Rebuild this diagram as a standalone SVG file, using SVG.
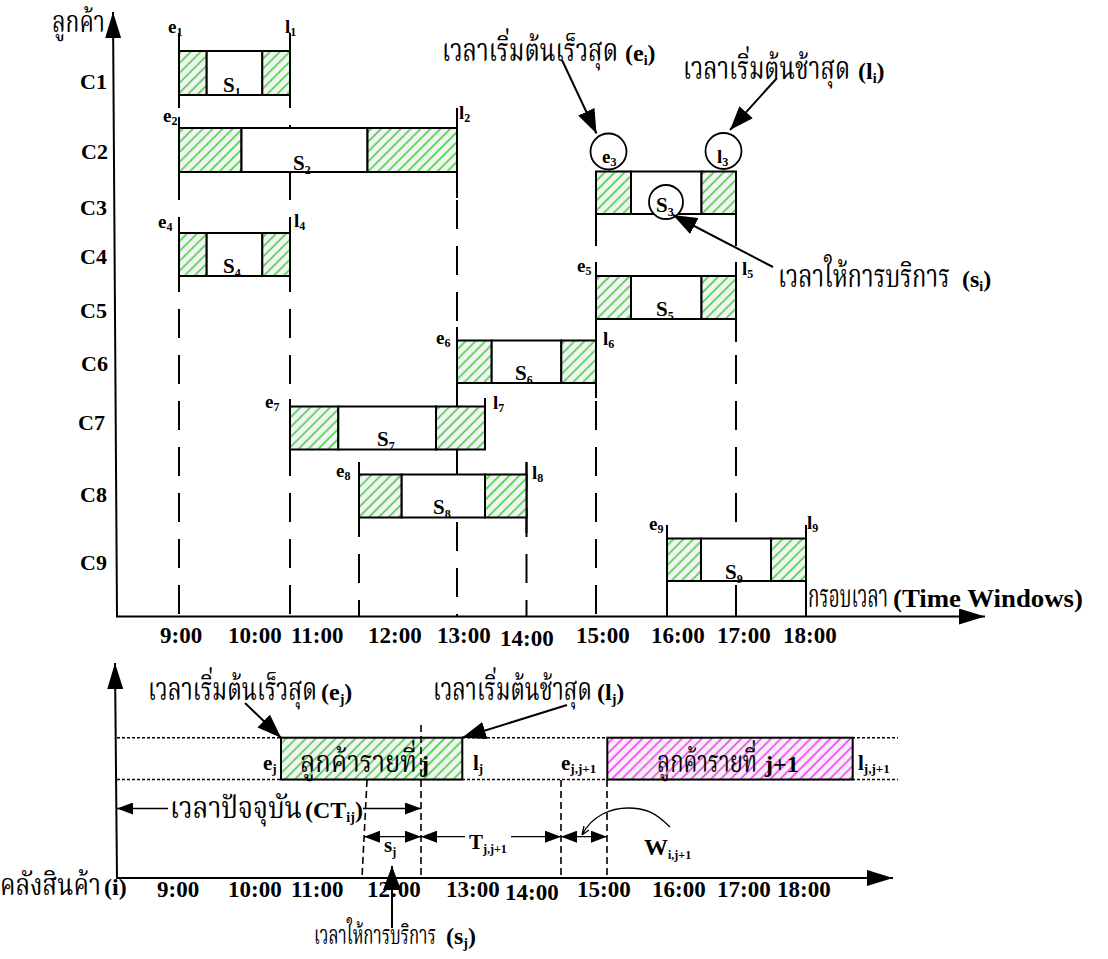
<svg xmlns="http://www.w3.org/2000/svg" width="1108" height="959" viewBox="0 0 1108 959">
<style>
.lb{font-family:"Liberation Serif","Times New Roman",serif;font-weight:bold;fill:#000}
.th{font-family:"Noto Serif Thai","Noto Sans Thai","Loma","Liberation Serif",serif;fill:#000}
.ln{stroke:#000;stroke-width:2;fill:none}
.dl{stroke:#000;stroke-width:2;fill:none;stroke-dasharray:29 17}
.dd{stroke:#000;stroke-width:1.6;fill:none;stroke-dasharray:7 4}
.dot{stroke:#000;stroke-width:1.4;fill:none;stroke-dasharray:3 2}
.thin{stroke:#000;stroke-width:1.3;fill:none}
.hg{fill:url(#gh);stroke:#000;stroke-width:2}
.hm{fill:url(#mh);stroke:#000;stroke-width:2}
.wb{fill:#fff;stroke:#000;stroke-width:2}
.cir{fill:#fff;stroke:#000;stroke-width:1.8}
.c{font-size:22px}
.s{font-size:21px}
.e{font-size:19px}
.e2{font-size:21px}
.t{font-size:23px}
.p{font-size:24px}
</style>
<defs>
<pattern id="gh" patternUnits="userSpaceOnUse" width="7" height="7" patternTransform="rotate(45)">
<rect width="7" height="7" fill="#f4f4f4"/>
<line x1="3.5" y1="0" x2="3.5" y2="7" stroke="#33cc33" stroke-width="1.5"/>
</pattern>
<pattern id="mh" patternUnits="userSpaceOnUse" width="7" height="7" patternTransform="rotate(45)">
<rect width="7" height="7" fill="#f6f0f6"/>
<line x1="3.5" y1="0" x2="3.5" y2="7" stroke="#ee33ee" stroke-width="1.5"/>
</pattern>
<marker id="ah" viewBox="0 0 24 18" refX="24" refY="9" markerWidth="24" markerHeight="18" markerUnits="userSpaceOnUse" orient="auto"><path d="M0,0 L24,9 L0,18 z" fill="#000"/></marker>
<marker id="ax" viewBox="0 0 26 16" refX="26" refY="8" markerWidth="26" markerHeight="16" markerUnits="userSpaceOnUse" orient="auto"><path d="M0,0 L26,8 L0,16 z" fill="#000"/></marker>
<marker id="sa" viewBox="0 0 16 12" refX="16" refY="6" markerWidth="16" markerHeight="12" markerUnits="userSpaceOnUse" orient="auto-start-reverse"><path d="M0,0 L16,6 L0,12 z" fill="#000"/></marker>
</defs>
<rect width="1108" height="959" fill="#fff"/>

<!-- top chart axes and time lines -->
<g id="top-axes">
<line class="ln" x1="117" y1="617" x2="113" y2="12" marker-end="url(#ax)"/>
<line class="ln" x1="116" y1="616.5" x2="985" y2="616.5" marker-end="url(#ax)"/>
<text class="th" x="52" y="32" font-size="30" textLength="53" lengthAdjust="spacingAndGlyphs">ลูกค้า</text>
<text class="th" x="808" y="607" font-size="32" textLength="80" lengthAdjust="spacingAndGlyphs">กรอบเวลา</text>
<text class="lb" x="893" y="607" font-size="26" textLength="190" lengthAdjust="spacingAndGlyphs">(Time Windows)</text>
<g class="lb t">
<text x="160" y="643">9:00</text>
<text x="228" y="643">10:00</text>
<text x="291" y="643">11:00</text>
<text x="368" y="643">12:00</text>
<text x="437" y="643">13:00</text>
<text x="500" y="646">14:00</text>
<text x="576" y="643">15:00</text>
<text x="651" y="643">16:00</text>
<text x="717" y="643">17:00</text>
<text x="783" y="643">18:00</text>
</g>
<g class="lb c">
<text x="80" y="89">C1</text>
<text x="81" y="159">C2</text>
<text x="80" y="215">C3</text>
<text x="80" y="264">C4</text>
<text x="80" y="318">C5</text>
<text x="81" y="371">C6</text>
<text x="78" y="430">C7</text>
<text x="80" y="502">C8</text>
<text x="80" y="570">C9</text>
</g>
<g id="timelines">
<line class="dl" x1="179" y1="33" x2="179" y2="616"/>
<line class="dl" x1="290" y1="33" x2="290" y2="616"/>
<line class="dl" x1="359" y1="462" x2="359" y2="616"/>
<line class="dl" x1="457" y1="108" x2="457" y2="616"/>
<line class="dl" x1="526.5" y1="462" x2="526.5" y2="616"/>
<line class="dl" x1="596" y1="171" x2="596" y2="616"/>
<line class="dl" x1="667" y1="525" x2="667" y2="616"/>
<line class="dl" x1="736" y1="171" x2="736" y2="616"/>
<line class="dl" x1="806" y1="525" x2="806" y2="616"/>
</g>
<g id="solid-edges">
<path class="ln" d="M179,33V107 M290,33V107 M179,117V198 M457,108V198 M596,171V245 M736,171V245 M179,217V290 M290,217V290 M596,262V398 M736,262V342 M457,327V398 M290,399V475 M485,398V449 M457,449V475 M359,462V533 M526.5,462V533 M667,525V616 M806,525V616 M736,586V616"/>
</g>
</g>

<g id="c1">
<rect class="hg" x="179" y="51" width="27.7" height="44"/><rect class="wb" x="206.7" y="51" width="55.6" height="44"/><rect class="hg" x="262.3" y="51" width="27.7" height="44"/>
<text class="lb s" x="223" y="92">S<tspan font-size="12" dy="4">1</tspan></text>
<text class="lb e" x="168" y="33">e<tspan font-size="12" dy="3">1</tspan></text>
<text class="lb e" x="285" y="33">l<tspan font-size="12" dy="3">1</tspan></text>
</g>
<g id="c2">
<rect class="hg" x="179" y="128" width="62.5" height="44"/><rect class="wb" x="241.5" y="128" width="126" height="44"/><rect class="hg" x="367.5" y="128" width="89.5" height="44"/>
<text class="lb s" x="293" y="170">S<tspan font-size="12" dy="4">2</tspan></text>
<text class="lb e" x="163" y="122">e<tspan font-size="12" dy="3">2</tspan></text>
<text class="lb e" x="459" y="119">l<tspan font-size="12" dy="3">2</tspan></text>
</g>
<g id="c3">
<rect class="hg" x="596" y="171.5" width="35" height="42.5"/><rect class="wb" x="631" y="171.5" width="70.5" height="42.5"/><rect class="hg" x="701.5" y="171.5" width="34.5" height="42.5"/>
<circle class="cir" cx="666" cy="202" r="17"/>
<text class="lb s" x="656" y="212">S<tspan font-size="12" dy="4">3</tspan></text>
<circle class="cir" cx="608.5" cy="151.5" r="18"/>
<text class="lb e" x="602" y="163">e<tspan font-size="12" dy="3">3</tspan></text>
<circle class="cir" cx="723.5" cy="151" r="18"/>
<text class="lb e" x="717" y="163">l<tspan font-size="12" dy="3">3</tspan></text>
</g>
<g id="c4">
<rect class="hg" x="179" y="233" width="27.7" height="43"/><rect class="wb" x="206.7" y="233" width="55.6" height="43"/><rect class="hg" x="262.3" y="233" width="27.7" height="43"/>
<text class="lb s" x="223" y="273">S<tspan font-size="12" dy="4">4</tspan></text>
<text class="lb e" x="158" y="228">e<tspan font-size="12" dy="3">4</tspan></text>
<text class="lb e" x="294" y="227">l<tspan font-size="12" dy="3">4</tspan></text>
</g>
<g id="c5">
<rect class="hg" x="596" y="276" width="35" height="43"/><rect class="wb" x="631" y="276" width="70.5" height="43"/><rect class="hg" x="701.5" y="276" width="34.5" height="43"/>
<text class="lb s" x="656" y="316">S<tspan font-size="12" dy="4">5</tspan></text>
<text class="lb e" x="577" y="272">e<tspan font-size="12" dy="3">5</tspan></text>
<text class="lb e" x="742" y="275">l<tspan font-size="12" dy="3">5</tspan></text>
</g>
<g id="c6">
<rect class="hg" x="457" y="340.5" width="34.7" height="42.5"/><rect class="wb" x="491.7" y="340.5" width="69.6" height="42.5"/><rect class="hg" x="561.3" y="340.5" width="34.7" height="42.5"/>
<text class="lb s" x="515" y="380">S<tspan font-size="12" dy="4">6</tspan></text>
<text class="lb e" x="436" y="344">e<tspan font-size="12" dy="3">6</tspan></text>
<text class="lb e" x="603" y="345">l<tspan font-size="12" dy="3">6</tspan></text>
</g>
<g id="c7">
<rect class="hg" x="290" y="406.5" width="48.3" height="43"/><rect class="wb" x="338.3" y="406.5" width="97.7" height="43"/><rect class="hg" x="436" y="406.5" width="49" height="43"/>
<text class="lb s" x="377" y="446">S<tspan font-size="12" dy="4">7</tspan></text>
<text class="lb e" x="265" y="408">e<tspan font-size="12" dy="3">7</tspan></text>
<text class="lb e" x="493" y="409">l<tspan font-size="12" dy="3">7</tspan></text>
</g>
<g id="c8">
<rect class="hg" x="359" y="474.5" width="42.7" height="43"/><rect class="wb" x="401.7" y="474.5" width="83.3" height="43"/><rect class="hg" x="485" y="474.5" width="41.5" height="43"/>
<text class="lb s" x="433" y="514">S<tspan font-size="12" dy="4">8</tspan></text>
<text class="lb e" x="336" y="477">e<tspan font-size="12" dy="3">8</tspan></text>
<text class="lb e" x="532" y="479">l<tspan font-size="12" dy="3">8</tspan></text>
</g>
<g id="c9">
<rect class="hg" x="667" y="538.5" width="34" height="42.5"/><rect class="wb" x="701" y="538.5" width="70" height="42.5"/><rect class="hg" x="771" y="538.5" width="35" height="42.5"/>
<text class="lb s" x="725" y="579">S<tspan font-size="12" dy="4">9</tspan></text>
<text class="lb e" x="649" y="530">e<tspan font-size="12" dy="3">9</tspan></text>
<text class="lb e" x="807" y="529">l<tspan font-size="12" dy="3">9</tspan></text>
</g>

<g id="top-annotations">
<text class="th" x="442" y="61" font-size="32" textLength="176" lengthAdjust="spacingAndGlyphs">เวลาเริ่มต้นเร็วสุด</text>
<text class="lb p" x="625" y="61">(e<tspan font-size="14" dy="4">i</tspan><tspan dy="-4">)</tspan></text>
<text class="th" x="683" y="79" font-size="32" textLength="167" lengthAdjust="spacingAndGlyphs">เวลาเริ่มต้นช้าสุด</text>
<text class="lb p" x="858" y="79">(l<tspan font-size="14" dy="4">i</tspan><tspan dy="-4">)</tspan></text>
<text class="th" x="778" y="287" font-size="32" textLength="172" lengthAdjust="spacingAndGlyphs">เวลาให้การบริการ</text>
<text class="lb p" x="962" y="287">(s<tspan font-size="14" dy="4">i</tspan><tspan dy="-4">)</tspan></text>
</g>

<!-- bottom chart -->
<g id="bottom-axes">
<line class="ln" x1="117" y1="879" x2="115" y2="663" marker-end="url(#ax)"/>
<line class="ln" x1="116" y1="878" x2="893" y2="878" marker-end="url(#ax)"/>
<line class="dot" x1="117" y1="737.7" x2="898" y2="737.7"/>
<line class="dot" x1="117" y1="779.5" x2="898" y2="779.5"/>
<text class="th" x="0" y="895" font-size="30" textLength="101" lengthAdjust="spacingAndGlyphs">คลังสินค้า</text>
<text class="lb p" x="104" y="895">(i)</text>
<g class="lb t">
<text x="157" y="897">9:00</text>
<text x="228" y="897">10:00</text>
<text x="291" y="897">11:00</text>
<text x="367" y="897">12:00</text>
<text x="446" y="897">13:00</text>
<text x="505" y="900">14:00</text>
<text x="577" y="897">15:00</text>
<text x="652" y="897">16:00</text>
<text x="717" y="897">17:00</text>
<text x="777" y="897">18:00</text>
</g>
</g>
<g id="customer-j">
<rect class="hg" x="281" y="737.7" width="181.3" height="41.8"/>
<text class="th" x="300" y="772" font-size="30" textLength="117" lengthAdjust="spacingAndGlyphs">ลูกค้ารายที่</text>
<text class="lb p" x="421" y="772">j</text>
<text class="lb e2" x="263" y="770">e<tspan font-size="13" dy="3">j</tspan></text>
<text class="lb e2" x="473" y="770">l<tspan font-size="13" dy="3">j</tspan></text>
</g>
<g id="customer-j1">
<rect class="hm" x="607.3" y="737.7" width="245.4" height="41.8"/>
<text class="th" x="657" y="772" font-size="30" textLength="100" lengthAdjust="spacingAndGlyphs">ลูกค้ารายที่</text>
<text class="lb p" x="765" y="772">j+1</text>
<text class="lb e2" x="561" y="770">e<tspan font-size="13" dy="3">j,j+1</tspan></text>
<text class="lb e2" x="858" y="770">l<tspan font-size="13" dy="3">j,j+1</tspan></text>
</g>
<g id="bottom-guides">
<line class="dd" x1="421" y1="725" x2="421" y2="878"/>
<line class="dd" x1="367" y1="780" x2="362" y2="878"/>
<line class="dd" x1="561" y1="780" x2="561" y2="878"/>
<line class="dd" x1="607" y1="780" x2="607" y2="878"/>
</g>
<g id="bottom-labels">
<text class="th" x="148" y="700" font-size="32" textLength="169" lengthAdjust="spacingAndGlyphs">เวลาเริ่มต้นเร็วสุด</text>
<text class="lb p" x="321" y="700">(e<tspan font-size="14" dy="4">j</tspan><tspan dy="-4">)</tspan></text>
<text class="th" x="433" y="700" font-size="32" textLength="159" lengthAdjust="spacingAndGlyphs">เวลาเริ่มต้นช้าสุด</text>
<text class="lb p" x="597" y="700">(l<tspan font-size="14" dy="4">j</tspan><tspan dy="-4">)</tspan></text>
<text class="th" x="170" y="818" font-size="30" textLength="132" lengthAdjust="spacingAndGlyphs">เวลาปัจจุบัน</text>
<text class="lb p" x="305" y="818">(CT<tspan font-size="14" dy="4">ij</tspan><tspan dy="-4">)</tspan></text>
<text class="lb s" x="384" y="852">s<tspan font-size="12" dy="4">j</tspan></text>
<text class="lb s" x="469" y="849">T<tspan font-size="12" dy="4">j,j+1</tspan></text>
<text class="lb" font-size="24" x="644" y="855">W<tspan font-size="12" dy="4">i,j+1</tspan></text>
<text class="th" x="314" y="944" font-size="26" textLength="122" lengthAdjust="spacingAndGlyphs">เวลาให้การบริการ</text>
<text class="lb p" x="446" y="944">(s<tspan font-size="14" dy="4">j</tspan><tspan dy="-4">)</tspan></text>
</g>

<g id="connectors">
<line class="ln" x1="562" y1="60" x2="596.5" y2="133.5" marker-end="url(#ah)"/>
<line class="ln" x1="777" y1="78" x2="730" y2="130" marker-end="url(#ah)"/>
<line class="ln" x1="773" y1="267" x2="673" y2="215" marker-end="url(#ah)"/>
<line class="ln" x1="245" y1="703" x2="281" y2="737.7" marker-end="url(#ah)"/>
<line class="ln" x1="567" y1="705" x2="462" y2="737.7" marker-end="url(#ah)"/>
<line class="ln" x1="392" y1="928" x2="392" y2="866" marker-end="url(#ah)"/>
<line class="thin" x1="168" y1="808.5" x2="117" y2="808.5" marker-end="url(#sa)"/>
<line class="thin" x1="363" y1="808.5" x2="421" y2="808.5" marker-end="url(#sa)"/>
<line class="thin" x1="364" y1="836.7" x2="421" y2="836.7" marker-start="url(#sa)" marker-end="url(#sa)"/>
<line class="thin" x1="465" y1="836.7" x2="421" y2="836.7" marker-end="url(#sa)"/>
<line class="thin" x1="511" y1="836.7" x2="561" y2="836.7" marker-end="url(#sa)"/>
<line class="thin" x1="561" y1="836.7" x2="607" y2="836.7" marker-start="url(#sa)" marker-end="url(#sa)"/>
<path class="thin" d="M670,827 C655,812 645,808 628,808 C612,808 592,815 582,835 M582,835 L584,826 M582,835 L589,830"/>
</g>
</svg>
